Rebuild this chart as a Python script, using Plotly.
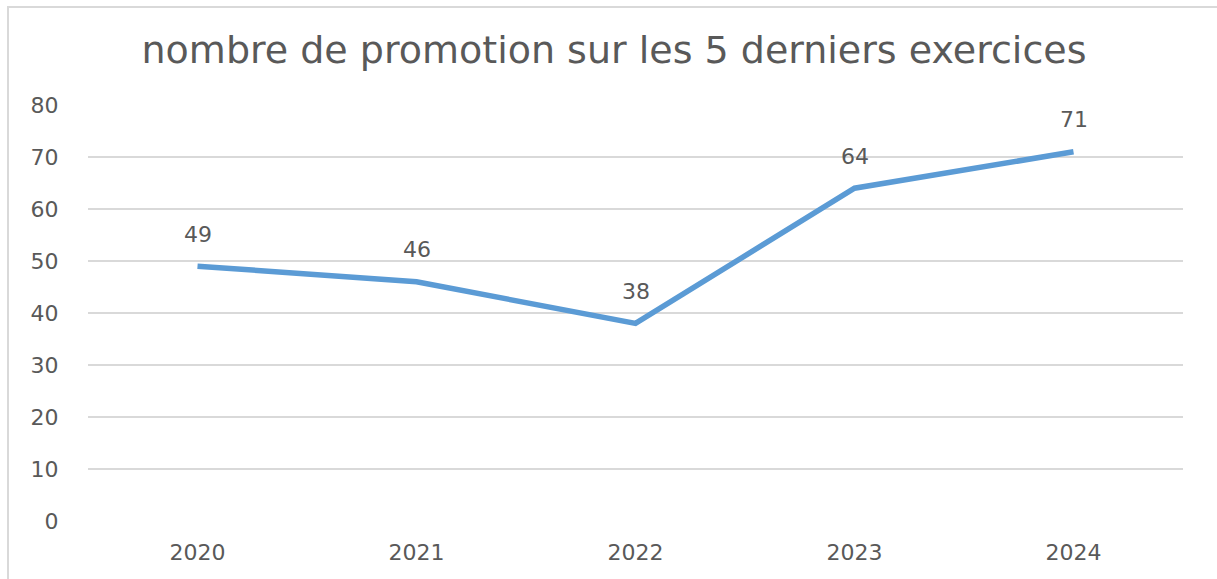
import plotly.graph_objects as go

years = ["2020", "2021", "2022", "2023", "2024"]
promotions = [49, 46, 38, 64, 71]
y_ticks = [0, 10, 20, 30, 40, 50, 60, 70, 80]

font_family = "DejaVu Sans, sans-serif"
text_color = "#595959"

fig = go.Figure()
fig.add_trace(go.Scatter(
    x=years, y=promotions, mode="lines",
    line=dict(color="#5B9BD5", width=5.5),
    hoverinfo="x+y",
))

# value labels above each point (x given as category index)
for i, v in enumerate(promotions):
    fig.add_annotation(x=i, y=v, xref="x", yref="y", text=str(v), showarrow=False,
                       yshift=32, font=dict(size=22, color=text_color, family=font_family))

# chart frame
fig.add_shape(type="rect", xref="paper", yref="paper",
              x0=-80/1095, x1=1.1, y0=-0.2, y1=(521-7)/416,
              line=dict(color="#D9D9D9", width=2), layer="below")

fig.update_layout(
    width=1217, height=579,
    margin=dict(l=88, r=34, t=105, b=58),
    paper_bgcolor="white", plot_bgcolor="white",
    showlegend=False,
    title=dict(text="nombre de promotion sur les 5 derniers exercices",
               x=(614-88)/1095, xref="paper", xanchor="center", y=1 - 50/579, yanchor="middle",
               font=dict(size=38, color=text_color, family=font_family)),
    xaxis=dict(type="category", range=[-0.5, 4.5], showgrid=False, zeroline=False,
               showline=False, ticks="outside", ticklen=12, tickcolor="rgba(0,0,0,0)",
               tickfont=dict(size=22, color=text_color, family=font_family)),
    yaxis=dict(range=[0, 80], tickvals=y_ticks, showgrid=True, gridcolor="#D9D9D9",
               gridwidth=2, zeroline=False, showline=False, ticks="outside", ticklen=24,
               tickcolor="rgba(0,0,0,0)",
               tickfont=dict(size=22, color=text_color, family=font_family)),
)

fig.write_html("out.html")
